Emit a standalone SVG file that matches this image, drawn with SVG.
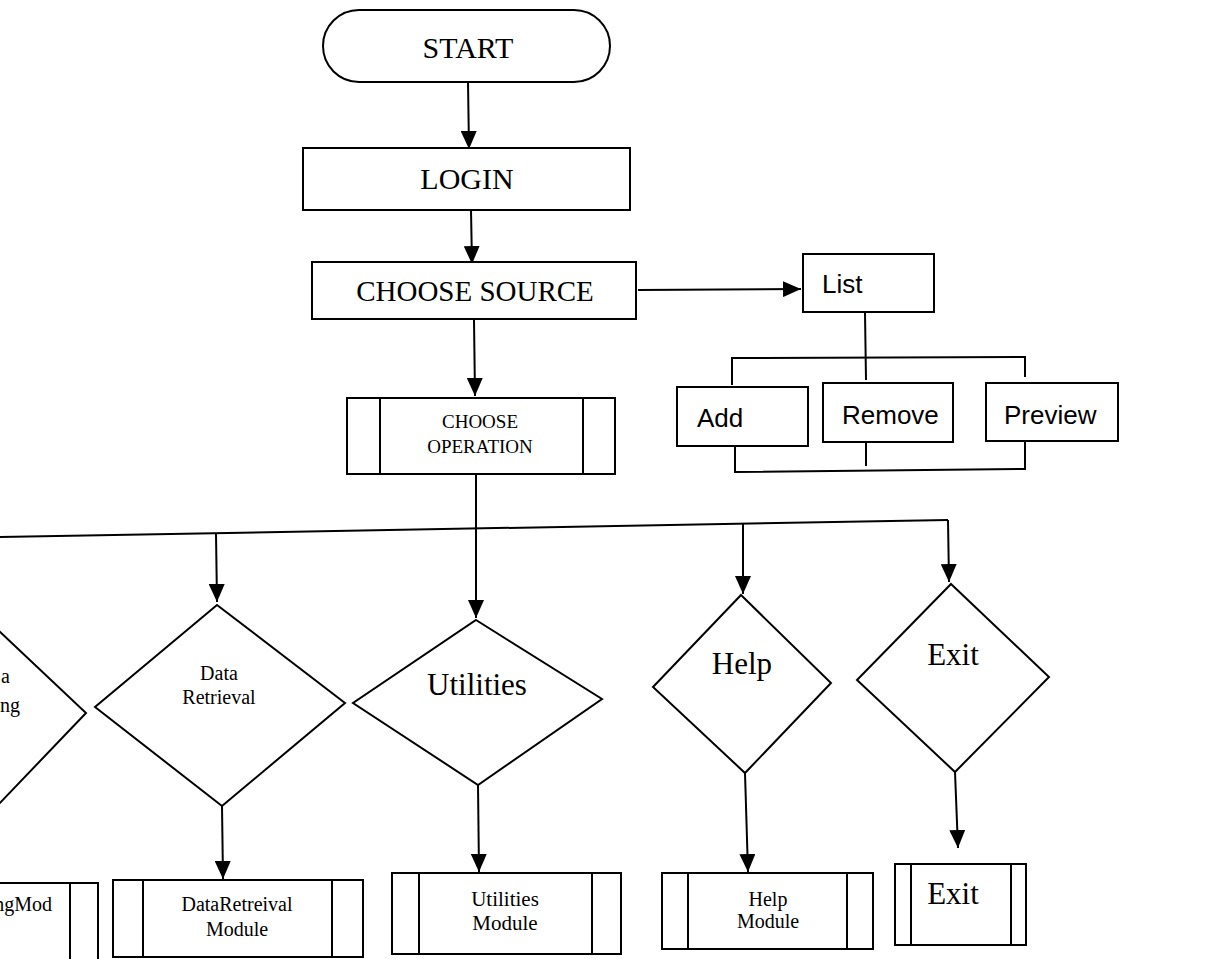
<svg xmlns="http://www.w3.org/2000/svg" width="1216" height="959" viewBox="0 0 1216 959">
<defs>
<style>
.s{fill:#fff;stroke:#000;stroke-width:2}
.l{fill:none;stroke:#000;stroke-width:2}
.t{font-family:"Liberation Serif","Times New Roman",serif;fill:#000;text-anchor:middle}
.a{font-family:"Liberation Sans",Arial,sans-serif;fill:#000;font-size:26px}
</style>
<marker id="ah" viewBox="0 0 18 16" refX="18" refY="8" markerWidth="18" markerHeight="16" markerUnits="userSpaceOnUse" orient="auto">
<path d="M0,0 L18,8 L0,16 Z" fill="#000"/>
</marker>
</defs>
<rect width="1216" height="959" fill="#fff"/>
<g id="connectors">
<line class="l" x1="468" y1="82" x2="469" y2="149" marker-end="url(#ah)"/>
<line class="l" x1="471" y1="210" x2="472" y2="264" marker-end="url(#ah)"/>
<line class="l" x1="474" y1="320" x2="475" y2="396" marker-end="url(#ah)"/>
<line class="l" x1="638" y1="290" x2="801" y2="289" marker-end="url(#ah)"/>
<line class="l" x1="865" y1="313" x2="866" y2="380"/>
<polyline class="l" points="732,385 732,358 1025,357 1025,377"/>
<polyline class="l" points="735,446 735,472 1025,469 1025,441"/>
<line class="l" x1="866" y1="442" x2="866" y2="466"/>
<line class="l" x1="0" y1="537" x2="948" y2="520"/>
<line class="l" x1="476" y1="474" x2="476" y2="618" marker-end="url(#ah)"/>
<line class="l" x1="216" y1="534" x2="217" y2="602" marker-end="url(#ah)"/>
<line class="l" x1="743" y1="524" x2="743" y2="594" marker-end="url(#ah)"/>
<line class="l" x1="948" y1="520" x2="949" y2="582" marker-end="url(#ah)"/>
<line class="l" x1="222" y1="806" x2="223" y2="879" marker-end="url(#ah)"/>
<line class="l" x1="478" y1="785" x2="479" y2="872" marker-end="url(#ah)"/>
<line class="l" x1="745" y1="773" x2="748" y2="872" marker-end="url(#ah)"/>
<line class="l" x1="955" y1="772" x2="958" y2="848" marker-end="url(#ah)"/>
</g>
<g id="start">
<rect class="s" x="323" y="10" width="287" height="72" rx="36" ry="36"/>
<text class="t" x="468" y="58" font-size="30">START</text>
</g>
<g id="login">
<rect class="s" x="303" y="148" width="327" height="62"/>
<text class="t" x="467" y="189" font-size="30">LOGIN</text>
</g>
<g id="choose-source">
<rect class="s" x="312" y="262" width="324" height="57"/>
<text class="t" x="475" y="301" font-size="29">CHOOSE SOURCE</text>
</g>
<g id="list">
<rect class="s" x="803" y="254" width="131" height="58"/>
<text class="a" x="822" y="293">List</text>
</g>
<g id="add">
<rect class="s" x="677" y="387" width="131" height="59"/>
<text class="a" x="697" y="427">Add</text>
</g>
<g id="remove">
<rect class="s" x="823" y="383" width="130" height="59"/>
<text class="a" x="842" y="424">Remove</text>
</g>
<g id="preview">
<rect class="s" x="986" y="383" width="132" height="58"/>
<text class="a" x="1004" y="424">Preview</text>
</g>
<g id="choose-operation">
<rect class="s" x="347" y="398" width="268" height="76"/>
<line class="l" x1="380" y1="398" x2="380" y2="474"/>
<line class="l" x1="583" y1="398" x2="583" y2="474"/>
<text class="t" x="480" y="428" font-size="19">CHOOSE</text>
<text class="t" x="480" y="453" font-size="19">OPERATION</text>
</g>
<g id="data-processing">
<polyline class="s" points="-2,630 86,713 -2,805"/>
<text class="t" x="10" y="683" font-size="20" style="text-anchor:end">a</text>
<text class="t" x="20" y="712" font-size="20" style="text-anchor:end">ng</text>
</g>
<g id="data-retrieval">
<polygon class="s" points="217,605 345,703 222,806 95,707"/>
<text class="t" x="219" y="680" font-size="20">Data</text>
<text class="t" x="219" y="704" font-size="20">Retrieval</text>
</g>
<g id="utilities">
<polygon class="s" points="476,620 602,699 478,785 353,703"/>
<text class="t" x="477" y="695" font-size="31">Utilities</text>
</g>
<g id="help">
<polygon class="s" points="741,595 831,683 745,773 653,687"/>
<text class="t" x="742" y="674" font-size="31">Help</text>
</g>
<g id="exit">
<polygon class="s" points="951,584 1049,677 955,772 857,680"/>
<text class="t" x="953" y="665" font-size="31">Exit</text>
</g>
<g id="data-processing-module">
<rect class="s" x="-10" y="883" width="108" height="80"/>
<line class="l" x1="70" y1="883" x2="70" y2="959"/>
<text class="t" x="52" y="911" font-size="20" style="text-anchor:end">ngMod</text>
</g>
<g id="data-retrieval-module">
<rect class="s" x="113" y="880" width="250" height="77"/>
<line class="l" x1="143" y1="880" x2="143" y2="957"/>
<line class="l" x1="332" y1="880" x2="332" y2="957"/>
<text class="t" x="237" y="911" font-size="20">DataRetreival</text>
<text class="t" x="237" y="936" font-size="20">Module</text>
</g>
<g id="utilities-module">
<rect class="s" x="392" y="873" width="229" height="81"/>
<line class="l" x1="419" y1="873" x2="419" y2="954"/>
<line class="l" x1="592" y1="873" x2="592" y2="954"/>
<text class="t" x="505" y="906" font-size="21">Utilities</text>
<text class="t" x="505" y="930" font-size="21">Module</text>
</g>
<g id="help-module">
<rect class="s" x="662" y="873" width="211" height="76"/>
<line class="l" x1="688" y1="873" x2="688" y2="949"/>
<line class="l" x1="847" y1="873" x2="847" y2="949"/>
<text class="t" x="768" y="906" font-size="20">Help</text>
<text class="t" x="768" y="928" font-size="20">Module</text>
</g>
<g id="exit-module">
<rect class="s" x="895" y="864" width="131" height="81"/>
<line class="l" x1="911" y1="864" x2="911" y2="945"/>
<line class="l" x1="1011" y1="864" x2="1011" y2="945"/>
<text class="t" x="953" y="904" font-size="31">Exit</text>
</g>
</svg>
